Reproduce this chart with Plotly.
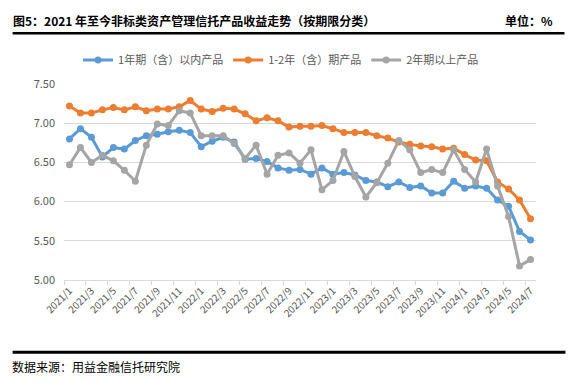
import plotly.graph_objects as go

months = [f"{y}/{m}" for y in (2021, 2022, 2023) for m in range(1, 13)] + [f"2024/{m}" for m in range(1, 8)]

s1_name = "1年期（含）以内产品"
s1 = [6.80, 6.93, 6.82, 6.57, 6.69, 6.67, 6.78, 6.84, 6.86, 6.89, 6.91, 6.88,
      6.70, 6.77, 6.82, 6.76, 6.54, 6.55, 6.51, 6.43, 6.40, 6.41, 6.35, 6.43,
      6.35, 6.37, 6.34, 6.27, 6.25, 6.19, 6.25, 6.18, 6.20, 6.11, 6.11, 6.26,
      6.17, 6.20, 6.17, 6.02, 5.94, 5.62, 5.51]

s2_name = "1-2年（含）期产品"
s2 = [7.22, 7.13, 7.13, 7.17, 7.20, 7.17, 7.21, 7.16, 7.18, 7.18, 7.21, 7.29,
      7.18, 7.15, 7.19, 7.18, 7.12, 7.03, 7.07, 7.03, 6.95, 6.96, 6.96, 6.97,
      6.93, 6.88, 6.88, 6.88, 6.84, 6.81, 6.76, 6.73, 6.71, 6.70, 6.67, 6.68,
      6.60, 6.53, 6.52, 6.25, 6.16, 6.02, 5.78]

s3_name = "2年期以上产品"
s3 = [6.47, 6.69, 6.50, 6.59, 6.52, 6.40, 6.26, 6.72, 6.99, 6.97, 7.16, 7.13,
      6.84, 6.84, 6.84, 6.74, 6.55, 6.72, 6.35, 6.59, 6.62, 6.49, 6.66, 6.15,
      6.27, 6.64, 6.32, 6.06, 6.24, 6.49, 6.78, 6.66, 6.37, 6.41, 6.37, 6.66,
      6.41, 6.25, 6.67, 6.20, 5.81, 5.18, 5.26]

y_ticks = [5.0, 5.5, 6.0, 6.5, 7.0, 7.5]

title_text = "图5：2021 年至今非标类资产管理信托产品收益走势（按期限分类）"
unit_text = "单位：%"
source_text = "数据来源：用益金融信托研究院"

colors = ["#5B9BD5", "#ED7D31", "#A5A5A5"]
FONT = "Noto Sans CJK SC"

fig = go.Figure()
for name, vals, col in [(s1_name, s1, colors[0]), (s2_name, s2, colors[1]), (s3_name, s3, colors[2])]:
    fig.add_trace(go.Scatter(
        x=months, y=vals, name=name, mode="lines+markers",
        line=dict(color=col, width=3),
        marker=dict(color=col, size=7),
    ))

W, H = 571, 381
L, R, T, B = 63.5, 536.5, 84, 280
pw, ph = R - L, B - T

def px(x):
    return (x - L) / pw

def py(y):
    return (B - y) / ph

fig.update_layout(
    width=W, height=H,
    margin=dict(l=L, r=W - R, t=T, b=H - B, pad=0),
    paper_bgcolor="white", plot_bgcolor="white",
    font=dict(family=FONT, color="#595959", size=11),
    showlegend=True,
    legend=dict(orientation="h", x=px(281), xanchor="center", y=py(60), yanchor="middle",
                font=dict(size=11, color="#595959"), itemwidth=30,
                tracegroupgap=0, bgcolor="rgba(0,0,0,0)"),
    xaxis=dict(
        type="category", range=[-0.5, len(months) - 0.5], automargin=False,
        tickmode="linear", tick0=0, dtick=2, tickangle=-45,
        tickson="boundaries", ticks="outside", ticklen=4, tickcolor="#d9d9d9",
        showline=True, linecolor="#d9d9d9", linewidth=1,
        showgrid=False, tickfont=dict(size=10, color="#595959"),
    ),
    yaxis=dict(
        range=[5.0, 7.5], tickvals=y_ticks, tickformat=".2f", automargin=False,
        showgrid=True, gridcolor="#d9d9d9", gridwidth=1,
        zeroline=False, showline=False, ticks="",
        tickfont=dict(size=11, color="#595959"), ticklabelstandoff=8,
    ),
)

fig.add_annotation(text="<b>" + title_text + "</b>", xref="paper", yref="paper",
                   x=px(10), y=py(20), xanchor="left", yanchor="middle", showarrow=False,
                   font=dict(family=FONT, size=12, color="#000000"))
fig.add_annotation(text="<b>" + unit_text + "</b>", xref="paper", yref="paper",
                   x=px(556), y=py(20), xanchor="right", yanchor="middle", showarrow=False,
                   font=dict(family=FONT, size=12, color="#000000"))
fig.add_annotation(text=source_text, xref="paper", yref="paper",
                   x=px(9), y=py(366), xanchor="left", yanchor="middle", showarrow=False,
                   font=dict(family=FONT, size=12, color="#000000"))

fig.add_shape(type="line", xref="paper", yref="paper", x0=px(12), x1=px(565),
              y0=py(33.3), y1=py(33.3), line=dict(color="#000000", width=2.5))
fig.add_shape(type="line", xref="paper", yref="paper", x0=px(12), x1=px(566),
              y0=py(352.3), y1=py(352.3), line=dict(color="#000000", width=3))

fig.write_html("out.html", config={"displayModeBar": False},
               post_script="document.body.style.margin='0';document.body.style.padding='0';"
                           "document.body.style.overflow='hidden';")
